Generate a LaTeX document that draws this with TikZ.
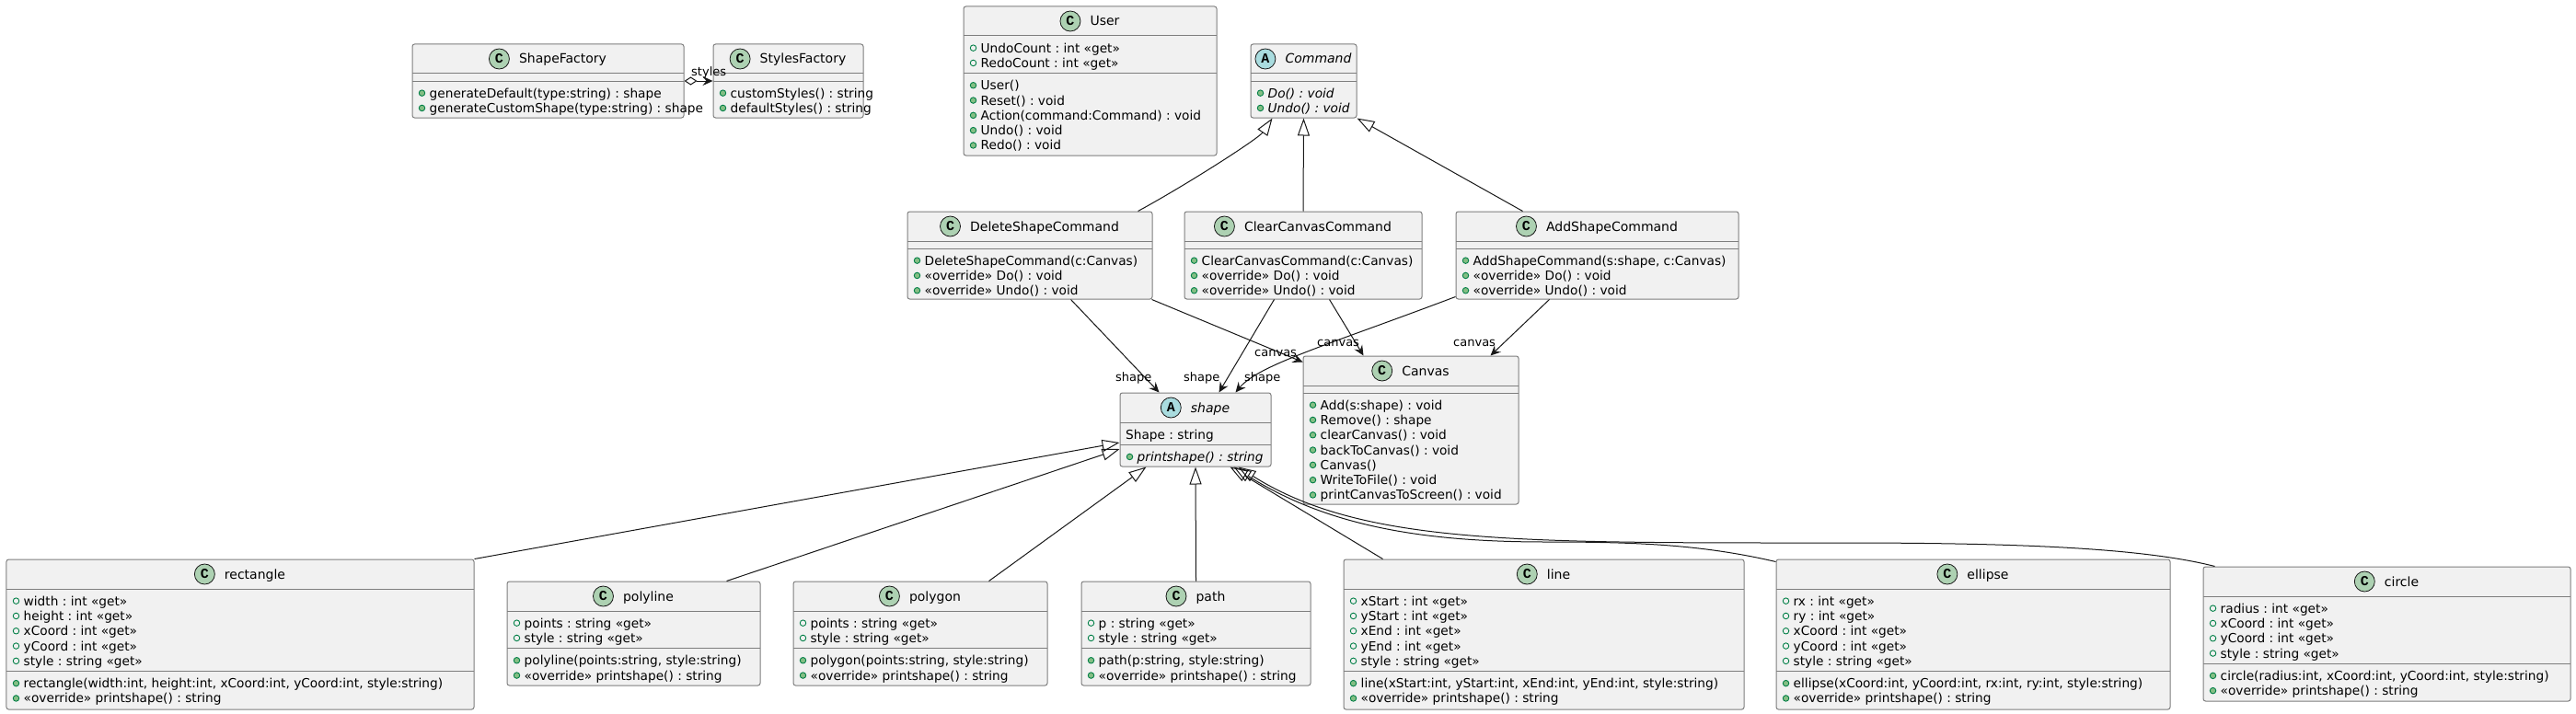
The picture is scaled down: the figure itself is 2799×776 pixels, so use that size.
\documentclass[tikz,border=0pt]{standalone}
\usepackage{fontspec}
\setmainfont{DejaVu Sans}
\newfontfamily\spotfont{Liberation Mono}
\usetikzlibrary{arrows.meta,positioning,calc}
\definecolor{boxfill}{HTML}{F1F1F1}
\definecolor{boxline}{HTML}{7E7E7E}
\definecolor{edgecol}{HTML}{181818}
\definecolor{spotc}{HTML}{ADD1B2}
\definecolor{spota}{HTML}{A9DCDF}
\definecolor{icgreen}{HTML}{038048}
\definecolor{icfill}{HTML}{84BE84}
\tikzset{
  clsbox/.style={draw=boxline, fill=boxfill, rounded corners=2.5bp, line width=1bp, inner sep=0},
  divl/.style={draw=boxline, line width=1bp},
  ttl/.style={anchor=base, inner sep=0, text height=11bp, text depth=1bp, font=\fontsize{14bp}{16bp}\selectfont\frenchspacing},
  memb/.style={anchor=base west, inner sep=0, font=\fontsize{13.7bp}{16bp}\selectfont\frenchspacing},
  lbl/.style={anchor=base west, inner sep=0, font=\fontsize{13bp}{15bp}\selectfont},
  spotbase/.style={circle, draw=edgecol, line width=0.8bp, minimum size=22bp, inner sep=0, font=\spotfont\bfseries\fontsize{15bp}{15bp}\selectfont},
  spotC/.style={spotbase, fill=spotc},
  spotA/.style={spotbase, fill=spota},
  ficon/.style={circle, draw=icgreen, line width=0.9bp, minimum size=6.5bp, inner sep=0},
  micon/.style={circle, draw=icgreen, fill=icfill, line width=0.9bp, minimum size=6.5bp, inner sep=0},
  edge/.style={draw=edgecol, line width=1bp},
  inh/.style={edge, -{Triangle[open, length=19bp, width=13bp]}},
  assoc/.style={edge, -{Stealth[length=11bp, width=10bp, inset=4bp]}},
  agg/.style={edge, {Diamond[open, length=14bp, width=9bp]}-{Stealth[length=11bp, width=10bp, inset=4bp]}},
}
\newcount\urow
\newcommand\uclass[7]{%
  \pgfmathsetmacro\uw{#4-#2}%
  \pgfmathsetmacro\uh{#5-#3}%
  \pgfmathsetmacro\ucx{(#2+#4)/2}%
  \pgfmathsetmacro\ucy{(#3+#5)/2}%
  \node[clsbox, minimum width=\uw bp, minimum height=\uh bp] (#1) at (\ucx,\ucy) {};
  \pgfmathsetmacro\utx{\ucx+16}%
  \pgfmathsetmacro\uty{#3+21}%
  \node[ttl] (#1-t) at (\utx,\uty) {#7};
  \node[spot#6, left=10bp of #1-t] (#1-s) {#6};
  \pgfmathsetmacro\udy{#3+32}%
  \xdef\ucury{\udy}\xdef\uleft{#2}\xdef\uright{#4}%
  \draw[divl] (#2,\ucury) -- (#4,\ucury);
}
\newcommand\uicon[1]{\pgfmathsetmacro\ury{\ucury+8.15}\pgfmathsetmacro\uix{\uleft+10.5}\node[#1] (i\the\urow) at (\uix,\ury) {};}
\newcommand\utext[2]{\global\advance\urow by 1 \pgfmathsetmacro\urb{\ucury+13.15}\pgfmathsetmacro\urx{\uleft+#1}\node[memb] (m\the\urow) at (\urx,\urb) {#2};\pgfmathsetmacro\un{\ucury+16.3}\xdef\ucury{\un}}
\newcommand\ufield[1]{\uicon{ficon}\utext{18.5}{#1}}
\newcommand\umeth[1]{\uicon{micon}\utext{18.5}{#1}}
\newcommand\uabs[1]{\uicon{micon}\utext{18.5}{\itshape #1}}
\newcommand\uplain[1]{\utext{6}{#1}}
\newcommand\ucompA{\pgfmathsetmacro\un{\ucury+5}\xdef\ucury{\un}}
\newcommand\ucompZ{\pgfmathsetmacro\un{\ucury+3}\xdef\ucury{\un}\draw[divl] (\uleft,\ucury) -- (\uright,\ucury);}
\newcommand\uempty{\pgfmathsetmacro\un{\ucury+8}\xdef\ucury{\un}\draw[divl] (\uleft,\ucury) -- (\uright,\ucury);}
\begin{document}
\frenchspacing
\begin{tikzpicture}[x=1bp, y=-1bp]
\useasboundingbox[fill=white] (0,0) rectangle (2799,776);

% ---------- top row ----------
\uclass{sf}{448}{48}{743}{128}{C}{ShapeFactory}
\uempty\ucompA
\umeth{generateDefault(type:string) : shape}
\umeth{generateCustomShape(type:string) : shape}

\uclass{sty}{775}{48}{938}{128}{C}{StylesFactory}
\uempty\ucompA
\umeth{customStyles() : string}
\umeth{defaultStyles() : string}

\uclass{user}{1047}{7}{1322}{169}{C}{User}
\ucompA
\ufield{UndoCount : int «get»}
\ufield{RedoCount : int «get»}
\ucompZ\ucompA
\umeth{User()}
\umeth{Reset() : void}
\umeth{Action(command:Command) : void}
\umeth{Undo() : void}
\umeth{Redo() : void}

\uclass{cmd}{1359}{48}{1474}{128}{A}{\itshape Command}
\uempty\ucompA
\uabs{Do() : void}
\uabs{Undo() : void}

% ---------- commands ----------
\uclass{dsc}{986}{230}{1252}{325}{C}{DeleteShapeCommand}
\uempty\ucompA
\umeth{DeleteShapeCommand(c:Canvas)}
\umeth{«override» Do() : void}
\umeth{«override» Undo() : void}

\uclass{ccc}{1287}{230}{1545}{325}{C}{ClearCanvasCommand}
\uempty\ucompA
\umeth{ClearCanvasCommand(c:Canvas)}
\umeth{«override» Do() : void}
\umeth{«override» Undo() : void}

\uclass{asc}{1582}{230}{1889}{325}{C}{AddShapeCommand}
\uempty\ucompA
\umeth{AddShapeCommand(s:shape, c:Canvas)}
\umeth{«override» Do() : void}
\umeth{«override» Undo() : void}

% ---------- canvas / shape ----------
\uclass{cnv}{1416}{387}{1650}{548}{C}{Canvas}
\uempty\ucompA
\umeth{Add(s:shape) : void}
\umeth{Remove() : shape}
\umeth{clearCanvas() : void}
\umeth{backToCanvas() : void}
\umeth{Canvas()}
\umeth{WriteToFile() : void}
\umeth{printCanvasToScreen() : void}

\uclass{shp}{1217}{427}{1381}{507}{A}{\itshape shape}
\ucompA
\uplain{Shape : string}
\ucompZ\ucompA
\uabs{printshape() : string}

% ---------- concrete shapes ----------
\uclass{rect}{7}{608}{515}{771}{C}{rectangle}
\ucompA
\ufield{width : int «get»}
\ufield{height : int «get»}
\ufield{xCoord : int «get»}
\ufield{yCoord : int «get»}
\ufield{style : string «get»}
\ucompZ\ucompA
\umeth{rectangle(width:int, height:int, xCoord:int, yCoord:int, style:string)}
\umeth{«override» printshape() : string}

\uclass{pl}{551}{632}{826}{745}{C}{polyline}
\ucompA
\ufield{points : string «get»}
\ufield{style : string «get»}
\ucompZ\ucompA
\umeth{polyline(points:string, style:string)}
\umeth{«override» printshape() : string}

\uclass{pg}{862}{632}{1138}{745}{C}{polygon}
\ucompA
\ufield{points : string «get»}
\ufield{style : string «get»}
\ucompZ\ucompA
\umeth{polygon(points:string, style:string)}
\umeth{«override» printshape() : string}

\uclass{pth}{1175}{632}{1424}{745}{C}{path}
\ucompA
\ufield{p : string «get»}
\ufield{style : string «get»}
\ucompZ\ucompA
\umeth{path(p:string, style:string)}
\umeth{«override» printshape() : string}

\uclass{ln}{1460}{608}{1895}{771}{C}{line}
\ucompA
\ufield{xStart : int «get»}
\ufield{yStart : int «get»}
\ufield{xEnd : int «get»}
\ufield{yEnd : int «get»}
\ufield{style : string «get»}
\ucompZ\ucompA
\umeth{line(xStart:int, yStart:int, xEnd:int, yEnd:int, style:string)}
\umeth{«override» printshape() : string}

\uclass{el}{1930}{608}{2358}{771}{C}{ellipse}
\ucompA
\ufield{rx : int «get»}
\ufield{ry : int «get»}
\ufield{xCoord : int «get»}
\ufield{yCoord : int «get»}
\ufield{style : string «get»}
\ucompZ\ucompA
\umeth{ellipse(xCoord:int, yCoord:int, rx:int, ry:int, style:string)}
\umeth{«override» printshape() : string}

\uclass{ci}{2394}{616}{2793}{762}{C}{circle}
\ucompA
\ufield{radius : int «get»}
\ufield{xCoord : int «get»}
\ufield{yCoord : int «get»}
\ufield{style : string «get»}
\ucompZ\ucompA
\umeth{circle(radius:int, xCoord:int, yCoord:int, style:string)}
\umeth{«override» printshape() : string}

% ---------- connectors ----------
\draw[agg] (sf.east) -- (sty.west);
\node[lbl] (lstyles) at (751,83) {styles};

\draw[inh] ([xshift=251bp]dsc.north west) .. controls +(55,-30) and +(-15,22) .. ([xshift=24bp]cmd.south west);
\draw[inh] (ccc.north) -- (cmd.south);
\draw[inh] ([xshift=73bp]asc.north west) -- (cmd.south east);

\draw[assoc] ([xshift=178bp]dsc.south west) -- ([xshift=43bp]shp.north west);
\draw[assoc] ([xshift=-1bp]dsc.south east) -- ([yshift=-7bp]cnv.north west);
\draw[assoc] ([xshift=98bp]ccc.south west) -- ([xshift=108bp]shp.north west);
\draw[assoc] ([xshift=158bp]ccc.south west) -- ([xshift=66bp]cnv.north west);
\draw[assoc] ([yshift=3bp]asc.south west) .. controls +(-140,53) and +(25,-30) .. ([xshift=126bp]shp.north west);
\draw[assoc] ([xshift=102bp]asc.south west) -- ([xshift=204bp]cnv.north west);

\node[lbl] (ls1) at (1212,414) {shape};
\node[lbl] (ls2) at (1286,414) {shape};
\node[lbl] (ls3) at (1352,414) {shape};
\node[lbl] (lc1) at (1363,387) {canvas};
\node[lbl] (lc2) at (1431,376) {canvas};
\node[lbl] (lc3) at (1579,376) {canvas};

\draw[inh] (rect.north east) -- ([yshift=-14bp]shp.west);
\draw[inh] ([xshift=239bp]pl.north west) -- ([yshift=-21bp]shp.west);
\draw[inh] ([xshift=213bp]pg.north west) -- ([xshift=29bp]shp.south west);
\draw[inh] (pth.north) -- (shp.south);
\draw[inh] ([xshift=43bp]ln.north west) -- ([xshift=120bp]shp.south west);
\draw[inh] ([yshift=-3bp]el.north west) .. controls (1850,592) and (1780,589) .. (1680,589) .. controls (1540,589) and (1440,570) .. ([xshift=124bp]shp.south west);
\draw[inh] ([xshift=13bp]ci.north west) .. controls (2330,596) and (2200,590) .. (2000,590) .. controls (1650,590) and (1480,592) .. ([xshift=129bp]shp.south west);
\end{tikzpicture}
\end{document}
